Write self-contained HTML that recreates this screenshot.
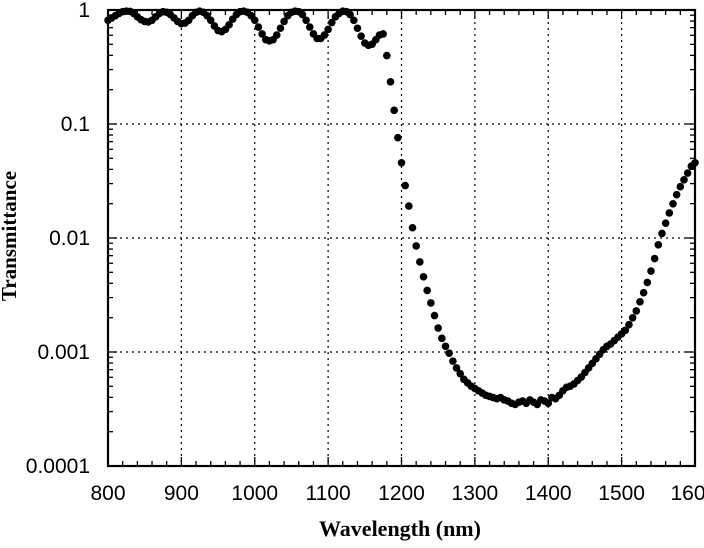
<!DOCTYPE html>
<html><head><meta charset="utf-8"><style>
html,body{margin:0;padding:0;background:#fff;}
svg{display:block;}
</style></head><body>
<svg id="chart" width="704" height="548" xmlns="http://www.w3.org/2000/svg">
<g id="grid"></g>
<g id="ticks"></g>
<g id="points"></g>
<rect x="108" y="10" width="587" height="456" fill="none" stroke="#000" stroke-width="2.2"/>
<g id="labels" font-family="Liberation Sans, sans-serif" font-size="21" fill="#000"></g>
<text x="400" y="536" text-anchor="middle" font-family="Liberation Serif, serif" font-weight="bold" font-size="22">Wavelength (nm)</text>
<text transform="translate(16,236) rotate(-90)" text-anchor="middle" font-family="Liberation Serif, serif" font-weight="bold" font-size="21">Transmittance</text>
</svg>
<script>
const wavelengthStart = 800;
const wavelengthStep = 5;
const log10Transmittance = [
-0.09,-0.07,-0.05,-0.03,-0.015,-0.01,-0.012,-0.03,-0.06,-0.085,-0.10,-0.105,-0.09,-0.06,-0.03,-0.015,-0.02,-0.04,-0.07,-0.10,
-0.12,-0.115,-0.09,-0.05,-0.02,-0.01,-0.02,-0.05,-0.09,-0.14,-0.18,-0.19,-0.17,-0.13,-0.08,-0.04,-0.015,-0.01,-0.02,-0.05,
-0.09,-0.15,-0.21,-0.26,-0.27,-0.26,-0.22,-0.16,-0.10,-0.05,-0.02,-0.01,-0.015,-0.04,-0.09,-0.15,-0.21,-0.25,-0.25,-0.22,
-0.17,-0.11,-0.06,-0.03,-0.01,-0.015,-0.04,-0.09,-0.16,-0.23,-0.29,-0.31,-0.30,-0.26,-0.22,-0.21,-0.40,-0.63,-0.88,-1.12,
-1.34,-1.54,-1.72,-1.91,-2.07,-2.21,-2.34,-2.46,-2.57,-2.68,-2.79,-2.88,-2.95,-3.01,-3.08,-3.14,-3.19,-3.24,-3.27,-3.30,
-3.32,-3.34,-3.36,-3.38,-3.39,-3.40,-3.41,-3.40,-3.42,-3.43,-3.45,-3.46,-3.44,-3.43,-3.45,-3.42,-3.44,-3.46,-3.42,-3.43,
-3.45,-3.40,-3.41,-3.38,-3.34,-3.31,-3.30,-3.28,-3.25,-3.22,-3.18,-3.14,-3.10,-3.06,-3.02,-2.98,-2.95,-2.93,-2.90,-2.87,
-2.84,-2.81,-2.76,-2.70,-2.64,-2.56,-2.48,-2.39,-2.29,-2.18,-2.06,-1.96,-1.87,-1.78,-1.70,-1.62,-1.55,-1.49,-1.43,-1.37,
-1.34];
const xTickValues = [800,900,1000,1100,1200,1300,1400,1500,1600];
const xTickLabels = ["800","900","1000","1100","1200","1300","1400","1500","160"];
const yTickExponents = [0,-1,-2,-3,-4];
const yTickLabels = ["1","0.1","0.01","0.001","0.0001"];

const NS = "http://www.w3.org/2000/svg";
const L=108,R=695,T=10,B=466;
function xScale(w){return L+(w-800)/800*(R-L);}
function yScale(lg){return T+(0-lg)/4*(B-T);}
function mk(tag,attrs,parent){const e=document.createElementNS(NS,tag);for(const k in attrs)e.setAttribute(k,attrs[k]);parent.appendChild(e);return e;}
const grid=document.getElementById('grid'),ticks=document.getElementById('ticks'),pts=document.getElementById('points'),labels=document.getElementById('labels');

xTickValues.forEach((v,i)=>{
  const x=xScale(v);
  if(i>0&&i<xTickValues.length-1){
    const g=mk('line',{x1:x,x2:x,y1:T,y2:B,stroke:'#000','stroke-width':1.2,'stroke-dasharray':'2,4'},grid);
    
    
  }
  const t=mk('text',{x:x+(i===xTickValues.length-1?-7:0),y:500,'text-anchor':'middle'},labels);
  t.textContent=xTickLabels[i];
  
  
});
for(let w=800;w<=1600;w+=20){
  const x=xScale(w);const len=(w%100===0)?9:5;
  const a=mk('line',{x1:x,x2:x,y1:B,y2:B-len,stroke:'#000','stroke-width':1.3},ticks);
  
  
  const b=mk('line',{x1:x,x2:x,y1:T,y2:T+len,stroke:'#000','stroke-width':1.3},ticks);
  
  
}
yTickExponents.forEach((e,i)=>{
  const y=yScale(e);
  if(i>0&&i<yTickExponents.length-1){
    const g=mk('line',{x1:L,x2:R,y1:y,y2:y,stroke:'#000','stroke-width':1.2,'stroke-dasharray':'2,4'},grid);
    
    
  }
  const t=mk('text',{x:90,y:y+7,'text-anchor':'end'},labels);
  t.textContent=yTickLabels[i];
  
  
});
for(let d=0;d>-4;d--){
  for(let m=1;m<10;m++){
    const y=yScale(d-1+Math.log10(m));const len=(m===1)?9:5;
    const a=mk('line',{x1:L,x2:L+len,y1:y,y2:y,stroke:'#000','stroke-width':1.3},ticks);
    
    
    const b=mk('line',{x1:R,x2:R-len,y1:y,y2:y,stroke:'#000','stroke-width':1.3},ticks);
    
    
  }
}
log10Transmittance.forEach((lg,i)=>{
  const w=wavelengthStart+i*wavelengthStep;
  const c=mk('circle',{cx:xScale(w),cy:yScale(lg),r:3.8,fill:'#000'},pts);
  
  
});
</script>
</body></html>
